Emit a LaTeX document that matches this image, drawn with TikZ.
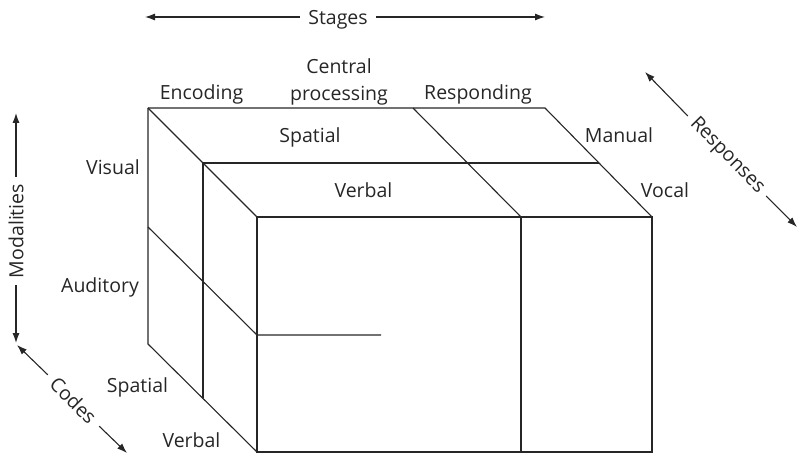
\documentclass[tikz,border=0pt]{standalone}
\usepackage{fontspec}
\setmainfont{Open Sans}
\usetikzlibrary{arrows.meta}
\begin{document}
\begin{tikzpicture}[x=1pt,y=-1pt,
  lbl/.style={font=\fontsize{19.5}{27}\selectfont, inner sep=0pt, text=black!85},
  edge/.style={line width=1.1pt, draw=black!85},
  front/.style={line width=1.8pt, draw=black!85},
  arr/.style={line width=1.1pt, draw=black!85, -{Latex[length=10pt,width=7pt]}},
  axis/.style={font=\fontsize{19.5}{27}\selectfont, inner xsep=8pt, inner ysep=0pt, text=black!85}]
\useasboundingbox (0,0) rectangle (798,457);
% cube corners
\coordinate (A) at (148,108);
\coordinate (B) at (545,108);
\coordinate (T) at (413,108);
\coordinate (F1) at (257,217);
\coordinate (F2) at (652,217);
\coordinate (F3) at (652,452);
\coordinate (F4) at (257,452);
\coordinate (FD1) at (521,217);
\coordinate (FD2) at (521,452);
\coordinate (M1) at (203,163);
\coordinate (M2) at (599,163);
\coordinate (M3) at (203,398);
\coordinate (A2) at (148,344);
\coordinate (L1) at (148,227);
\coordinate (L2) at (257,335);
\coordinate (L3) at (381,335);
% cube
\draw[edge] (A) -- (B) -- (F2);
\draw[edge] (A) -- (F1);
\draw[edge] (T) -- (FD1);
\draw[edge] (M1) -- (M2);
\draw[edge] (M1) -- (M3);
\draw[edge] (A) -- (A2) -- (F4);
\draw[edge] (L1) -- (L2) -- (L3);
\draw[front] (F1) rectangle (F3);
\draw[front] (FD1) -- (FD2);
% labels
\node[lbl, anchor=base] (enc) at (201.5,100) {Encoding};
\node[lbl, anchor=north, align=center] (cp) at (339,58) {Central\\processing};
\node[lbl, anchor=base] (resp) at (478,100) {Responding};
\node[lbl, anchor=base] (spT) at (310,143) {Spatial};
\node[lbl, anchor=base] (veT) at (363.5,198) {Verbal};
\node[lbl, anchor=base] (man) at (619,143) {Manual};
\node[lbl, anchor=base] (voc) at (665,198) {Vocal};
\node[lbl, anchor=base] (vis) at (113,175) {Visual};
\node[lbl, anchor=base] (aud) at (100,292) {Auditory};
\node[lbl, anchor=base] (spB) at (137.5,392) {Spatial};
\node[lbl, anchor=base] (veB) at (191.5,447) {Verbal};
% axes
\coordinate (stL) at (145,17);
\coordinate (stR) at (545,17);
\node[axis, anchor=base] (stg) at (338,25) {Stages};
\draw[arr] (stg.west |- stL) -- (stL);
\draw[arr] (stg.east |- stR) -- (stR);
\coordinate (modT) at (16,113);
\coordinate (modB) at (16,343);
\node[axis, inner xsep=7pt, rotate=90] (mod) at (16,231) {Modalities};
\draw[arr] (mod.east) -- (modT);
\draw[arr] (mod.west) -- (modB);
\coordinate (codT) at (17,345);
\coordinate (codB) at (127,453);
\node[axis, rotate=-45] (cod) at (73.5,400.5) {Codes};
\draw[arr] (cod.west) -- (codT);
\draw[arr] (cod.east) -- (codB);
\coordinate (rspT) at (645,72);
\coordinate (rspB) at (797,227);
\node[axis, inner xsep=7pt, rotate=-45.6] (rsp) at (727,156) {Responses};
\draw[arr] (rsp.west) -- (rspT);
\draw[arr] (rsp.east) -- (rspB);
\end{tikzpicture}
\end{document}
